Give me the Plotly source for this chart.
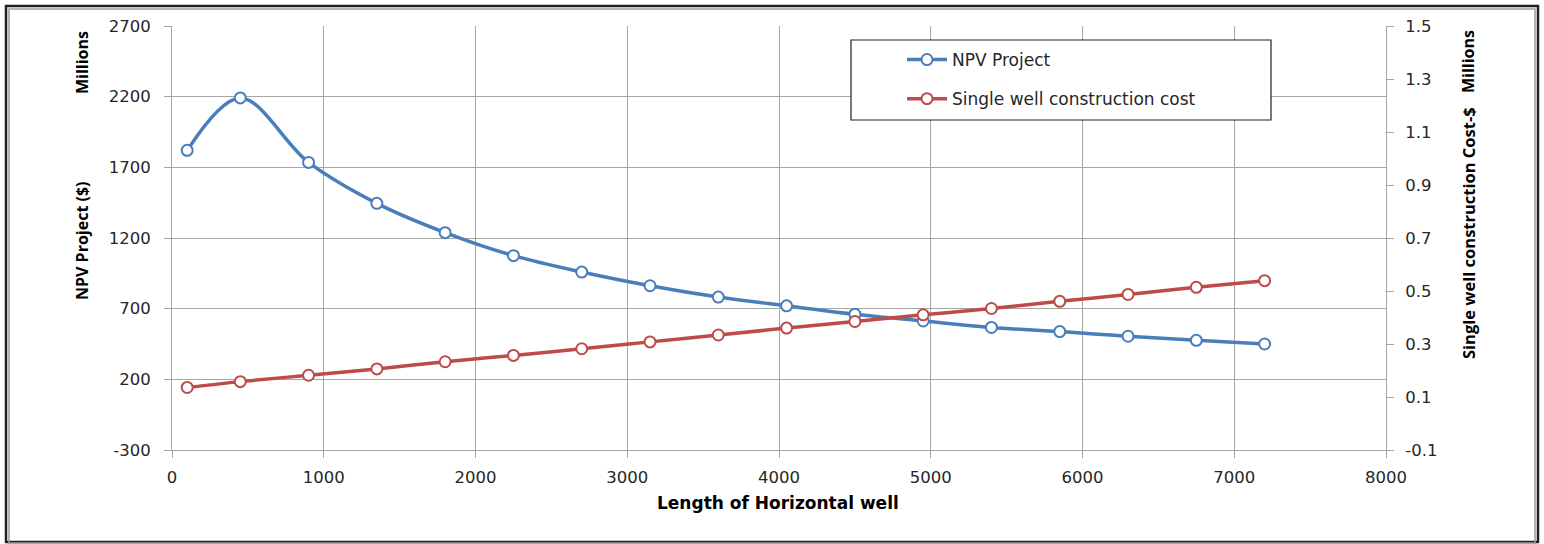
import plotly.graph_objects as go

# Data
length_m = [100, 450, 900, 1350, 1800, 2250, 2700, 3150, 3600, 4050, 4500, 4950, 5400, 5850, 6300, 6750, 7200]
npv_project = [1820, 2191, 1735, 1445, 1238, 1075, 959, 862, 782, 720, 661, 613, 567, 538, 505, 476, 450]
well_cost = [0.136, 0.158, 0.182, 0.206, 0.233, 0.257, 0.282, 0.308, 0.334, 0.360, 0.385, 0.410, 0.434, 0.461, 0.487, 0.514, 0.539]

series_names = ["NPV Project", "Single well construction cost"]
x_ticks = [0, 1000, 2000, 3000, 4000, 5000, 6000, 7000, 8000]
y_ticks = [-300, 200, 700, 1200, 1700, 2200, 2700]
y_ticktext = ["-300", "200", "700", "1200", "1700", "2200", "2700"]
y2_ticks = [-0.1, 0.1, 0.3, 0.5, 0.7, 0.9, 1.1, 1.3, 1.5]
y2_ticktext = ["-0.1", "0.1", "0.3", "0.5", "0.7", "0.9", "1.1", "1.3", "1.5"]

BLUE = "#4A7EBB"
RED = "#BE4B48"
GRID = "#A6A6A6"
TXT = "#262626"

# plot area in pixels
L, R, T, B = 172, 1386, 26, 450
W, H = 1544, 544
PW, PH = R - L, B - T


def px(x):
    return (x - L) / PW


def py(y):
    return (B - y) / PH


fig = go.Figure()
fig.add_trace(go.Scatter(
    x=length_m, y=npv_project, name=series_names[0], mode="lines+markers",
    line=dict(color=BLUE, width=3.5, shape="spline", smoothing=1.0),
    marker=dict(symbol="circle", size=11, color="white", line=dict(color=BLUE, width=2)),
    legendgroup="a", yaxis="y",
))
fig.add_trace(go.Scatter(
    x=length_m, y=well_cost, name=series_names[1], mode="lines+markers",
    line=dict(color=RED, width=3.5, shape="spline", smoothing=1.0),
    marker=dict(symbol="circle", size=11, color="white", line=dict(color=RED, width=2)),
    legendgroup="b", yaxis="y2",
))

tickfont = dict(family="DejaVu Sans", size=16.5, color=TXT)
titlefont = dict(family="Open Sans", size=16, color="#000", weight="bold")

fig.update_layout(
    width=W, height=H,
    margin=dict(l=L, r=W - R, t=T, b=H - B),
    paper_bgcolor="white", plot_bgcolor="white",
    showlegend=True,
    legend=dict(
        x=px(902), y=py(42), xanchor="left", yanchor="top",
        bgcolor="rgba(0,0,0,0)", borderwidth=0,
        font=dict(family="DejaVu Sans", size=17, color=TXT),
        tracegroupgap=14, itemwidth=40,
    ),
    xaxis=dict(
        range=[0, 8000], tickvals=x_ticks, showgrid=True, gridcolor=GRID, gridwidth=1,
        showline=True, linecolor=GRID, linewidth=1, ticks="outside", ticklen=7,
        tickcolor=GRID, tickfont=tickfont, zeroline=False, mirror=False,
        ticklabelstandoff=5,
    ),
    yaxis=dict(
        range=[-300, 2700], tickvals=y_ticks, ticktext=y_ticktext, showgrid=True,
        gridcolor=GRID, gridwidth=1, showline=True, linecolor=GRID, linewidth=1,
        ticks="outside", ticklen=7, tickcolor=GRID, tickfont=tickfont, zeroline=False,
        ticklabelstandoff=10,
    ),
    yaxis2=dict(
        range=[-0.1, 1.5], tickvals=y2_ticks, ticktext=y2_ticktext, overlaying="y",
        side="right", showgrid=False, showline=True, linecolor=GRID, linewidth=1,
        ticks="outside", ticklen=7, tickcolor=GRID, tickfont=tickfont, zeroline=False,
        ticklabelstandoff=8,
    ),
)

# legend box
fig.add_shape(type="rect", xref="paper", yref="paper",
              x0=px(851), x1=px(1271), y0=py(120), y1=py(40),
              line=dict(color="#222", width=1.2), fillcolor="white", layer="above")

# outer frame
fig.add_shape(type="rect", xref="paper", yref="paper",
              x0=px(6), x1=px(1538), y0=py(542), y1=py(6),
              line=dict(color="#222", width=2.5), fillcolor="rgba(0,0,0,0)", layer="above")
fig.add_shape(type="rect", xref="paper", yref="paper",
              x0=px(9), x1=px(1535), y0=py(543), y1=py(9),
              line=dict(color="#9a9a9a", width=1.5), fillcolor="rgba(0,0,0,0)", layer="above")

annos = [
    dict(text="NPV Project ($)", x=px(82), y=py(241), textangle=-90, font=titlefont),
    dict(text="Millions", x=px(82), y=py(63), textangle=-90, font=titlefont),
    dict(text="Single well construction Cost-$", x=px(1468), y=py(233), textangle=-90,
         font=dict(family="Open Sans", size=16.5, color="#000", weight="bold")),
    dict(text="Millions", x=px(1468), y=py(62), textangle=-90, font=titlefont),
    dict(text="<b>Length of Horizontal well</b>", x=px(778), y=py(503), textangle=0,
         font=dict(family="DejaVu Sans", size=17, color="#000")),
]
for a in annos:
    fig.add_annotation(xref="paper", yref="paper", showarrow=False,
                       xanchor="center", yanchor="middle", **a)

fig.write_html("out.html", config={"displayModeBar": False},
               post_script="document.body.style.margin='0';document.body.style.overflow='hidden';")
